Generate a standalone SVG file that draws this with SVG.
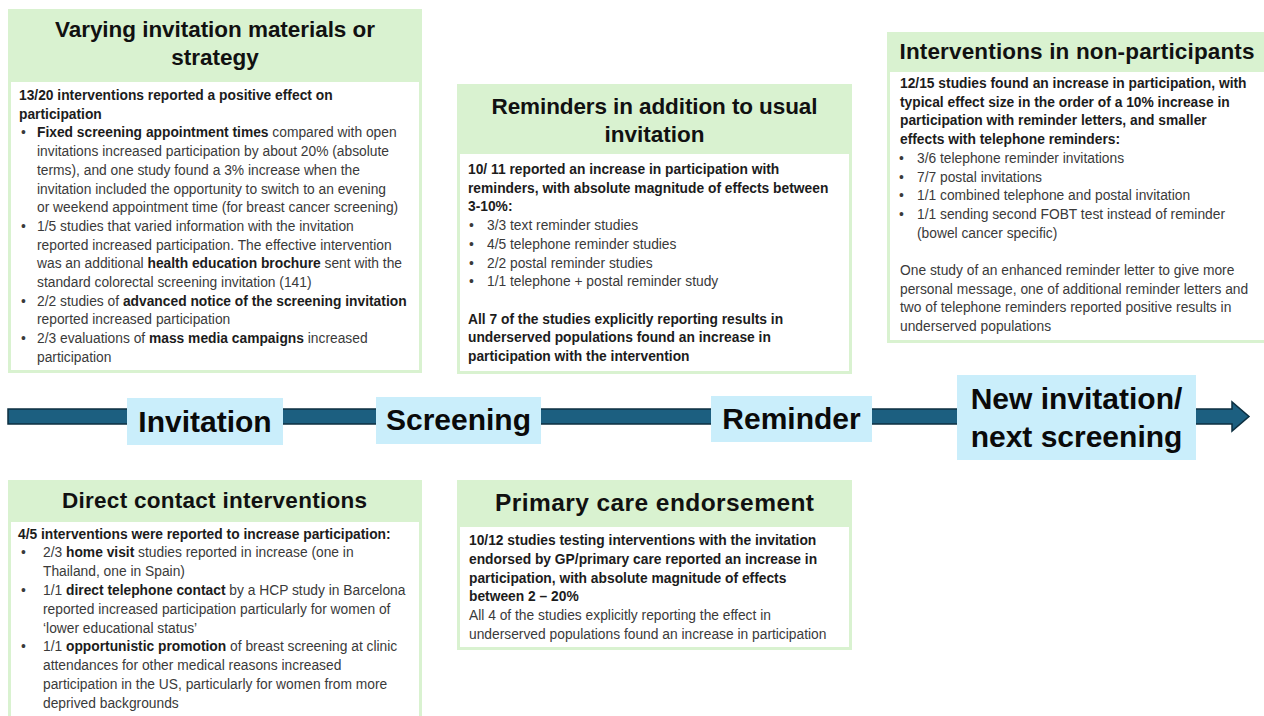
<svg xmlns="http://www.w3.org/2000/svg" width="1264" height="716" viewBox="0 0 1264 716">
<style>
.g{fill:#d9f2d0}
.w{fill:#ffffff}
.h{font-family:"Liberation Sans",Arial,sans-serif;font-weight:bold;font-size:22.5px;fill:#111111;text-anchor:middle}
.t{font-family:"Liberation Sans",Arial,sans-serif;font-size:13.8px;fill:#3a3a3a}
.b{font-weight:bold;fill:#1c1c1c}
.lb{fill:#caeefb}
.lt{font-family:"Liberation Sans",Arial,sans-serif;font-weight:bold;font-size:30px;fill:#0a0a0a;text-anchor:middle}
</style>
<rect width="1264" height="716" fill="#ffffff"/>

<g id="connectors">
<polygon points="8,409 1232,409 1232,402 1249,416.5 1232,431 1232,424 8,424" fill="#1c5f80" stroke="#0c2f40" stroke-width="1.5" stroke-linejoin="miter"/>
</g>

<g id="stage-invitation">
<rect class="lb" x="127" y="398" width="156" height="47"/>
<text class="lt" x="205" y="432">Invitation</text>
</g>
<g id="stage-screening">
<rect class="lb" x="376" y="397" width="165" height="47"/>
<text class="lt" x="458.5" y="430">Screening</text>
</g>
<g id="stage-reminder">
<rect class="lb" x="711" y="396" width="161" height="46"/>
<text class="lt" x="791.5" y="429">Reminder</text>
</g>
<g id="stage-new-invitation">
<rect class="lb" x="957" y="375" width="239" height="85"/>
<text class="lt" x="1076.5" y="409">New invitation/</text>
<text class="lt" x="1076.5" y="447">next screening</text>
</g>

<g id="box-varying-invitation">
<rect class="g" x="8" y="9" width="414" height="364"/>
<rect class="w" x="11" y="82" width="408" height="288"/>
<text class="h" x="215" y="37" textLength="320" lengthAdjust="spacing">Varying invitation materials or</text>
<text class="h" x="215" y="65">strategy</text>
<text class="t b" x="19" y="100">13/20 interventions reported a positive effect on</text>
<text class="t b" x="19" y="118.7">participation</text>
<text class="t" x="21" y="137.4">•</text>
<text class="t" x="37" y="137.4"><tspan class="b">Fixed screening appointment times</tspan> compared with open</text>
<text class="t" x="37" y="156.1">invitations  increased participation by about 20% (absolute</text>
<text class="t" x="37" y="174.8">terms), and one study found a 3% increase when the</text>
<text class="t" x="37" y="193.5">invitation  included the opportunity to switch to an evening</text>
<text class="t" x="37" y="212.2">or weekend appointment time (for breast cancer screening)</text>
<text class="t" x="21" y="230.9">•</text>
<text class="t" x="37" y="230.9">1/5 studies that varied information with the invitation</text>
<text class="t" x="37" y="249.6">reported increased participation. The effective intervention</text>
<text class="t" x="37" y="268.3">was an additional <tspan class="b">health education brochure</tspan> sent with the</text>
<text class="t" x="37" y="287">standard colorectal screening invitation (141)</text>
<text class="t" x="21" y="305.7">•</text>
<text class="t" x="37" y="305.7">2/2 studies of <tspan class="b">advanced notice of the screening invitation</tspan></text>
<text class="t" x="37" y="324.4">reported increased participation</text>
<text class="t" x="21" y="343.1">•</text>
<text class="t" x="37" y="343.1">2/3 evaluations of <tspan class="b">mass media campaigns</tspan> increased</text>
<text class="t" x="37" y="361.8">participation</text>
</g>

<g id="box-reminders">
<rect class="g" x="457" y="84" width="395" height="290"/>
<rect class="w" x="460" y="154" width="389" height="217"/>
<text class="h" x="654.5" y="114" textLength="326" lengthAdjust="spacing">Reminders in addition to usual</text>
<text class="h" x="654.5" y="142">invitation</text>
<text class="t b" x="468" y="174">10/ 11 reported an increase in participation with</text>
<text class="t b" x="468" y="192.7">reminders, with absolute magnitude of effects between</text>
<text class="t b" x="468" y="211.4">3-10%:</text>
<text class="t" x="469" y="230.1">•</text>
<text class="t" x="487" y="230.1">3/3 text reminder studies</text>
<text class="t" x="469" y="248.8">•</text>
<text class="t" x="487" y="248.8">4/5 telephone reminder studies</text>
<text class="t" x="469" y="267.5">•</text>
<text class="t" x="487" y="267.5">2/2 postal reminder studies</text>
<text class="t" x="469" y="286.2">•</text>
<text class="t" x="487" y="286.2">1/1 telephone + postal reminder study</text>
<text class="t b" x="468" y="323.6">All 7 of the studies explicitly reporting results in</text>
<text class="t b" x="468" y="342.3">underserved populations found an increase in</text>
<text class="t b" x="468" y="361">participation with the intervention</text>
</g>

<g id="box-non-participants">
<rect class="g" x="887" y="32" width="385" height="311"/>
<rect class="w" x="890" y="72" width="382" height="268"/>
<text class="h" x="1077" y="59" textLength="355" lengthAdjust="spacing">Interventions in non-participants</text>
<text class="t b" x="900" y="88">12/15 studies found an increase in participation, with</text>
<text class="t b" x="900" y="106.7">typical effect size in the order of a 10% increase in</text>
<text class="t b" x="900" y="125.4">participation with reminder letters, and smaller</text>
<text class="t b" x="900" y="144.1">effects with telephone reminders:</text>
<text class="t" x="899" y="162.8">•</text>
<text class="t" x="917" y="162.8">3/6 telephone reminder invitations</text>
<text class="t" x="899" y="181.5">•</text>
<text class="t" x="917" y="181.5">7/7 postal invitations</text>
<text class="t" x="899" y="200.2">•</text>
<text class="t" x="917" y="200.2">1/1 combined telephone and postal invitation</text>
<text class="t" x="899" y="218.9">•</text>
<text class="t" x="917" y="218.9">1/1 sending second FOBT test instead of reminder</text>
<text class="t" x="917" y="237.6">(bowel cancer specific)</text>
<text class="t" x="900" y="275">One study of an enhanced reminder letter to give more</text>
<text class="t" x="900" y="293.7">personal message, one of additional reminder letters and</text>
<text class="t" x="900" y="312.4">two of telephone reminders reported positive results in</text>
<text class="t" x="900" y="331.1">underserved populations</text>
</g>

<g id="box-direct-contact">
<rect class="g" x="8" y="480" width="414" height="240"/>
<rect class="w" x="11" y="522" width="408" height="198"/>
<text class="h" x="214.5" y="508" textLength="305" lengthAdjust="spacing">Direct contact interventions</text>
<text class="t b" x="18" y="538.5">4/5 interventions were reported to increase participation:</text>
<text class="t" x="21" y="557.3">•</text>
<text class="t" x="43" y="557.3">2/3 <tspan class="b">home visit</tspan> studies reported in increase (one in</text>
<text class="t" x="43" y="576.1">Thailand, one in Spain)</text>
<text class="t" x="21" y="594.9">•</text>
<text class="t" x="43" y="594.9">1/1 <tspan class="b">direct telephone contact</tspan> by a HCP study in Barcelona</text>
<text class="t" x="43" y="613.7">reported increased participation  particularly for women of</text>
<text class="t" x="43" y="632.5">‘lower educational status’</text>
<text class="t" x="21" y="651.3">•</text>
<text class="t" x="43" y="651.3">1/1 <tspan class="b">opportunistic promotion</tspan> of breast screening at clinic</text>
<text class="t" x="43" y="670.1">attendances for other medical reasons increased</text>
<text class="t" x="43" y="688.9">participation  in the US, particularly for women from more</text>
<text class="t" x="43" y="707.7">deprived backgrounds</text>
</g>

<g id="box-primary-care">
<rect class="g" x="457" y="480" width="395" height="170"/>
<rect class="w" x="460" y="527" width="389" height="120"/>
<text class="h" x="654.5" y="511" style="font-size:24.5px" textLength="319" lengthAdjust="spacing">Primary care endorsement</text>
<text class="t b" x="469" y="545">10/12 studies testing interventions with the invitation</text>
<text class="t b" x="469" y="563.8">endorsed by GP/primary care reported an increase in</text>
<text class="t b" x="469" y="582.6">participation, with absolute magnitude of effects</text>
<text class="t b" x="469" y="601.4">between 2 – 20%</text>
<text class="t" x="469" y="620.2">All 4 of the studies explicitly reporting the effect in</text>
<text class="t" x="469" y="639">underserved populations found an increase in participation</text>
</g>
</svg>
